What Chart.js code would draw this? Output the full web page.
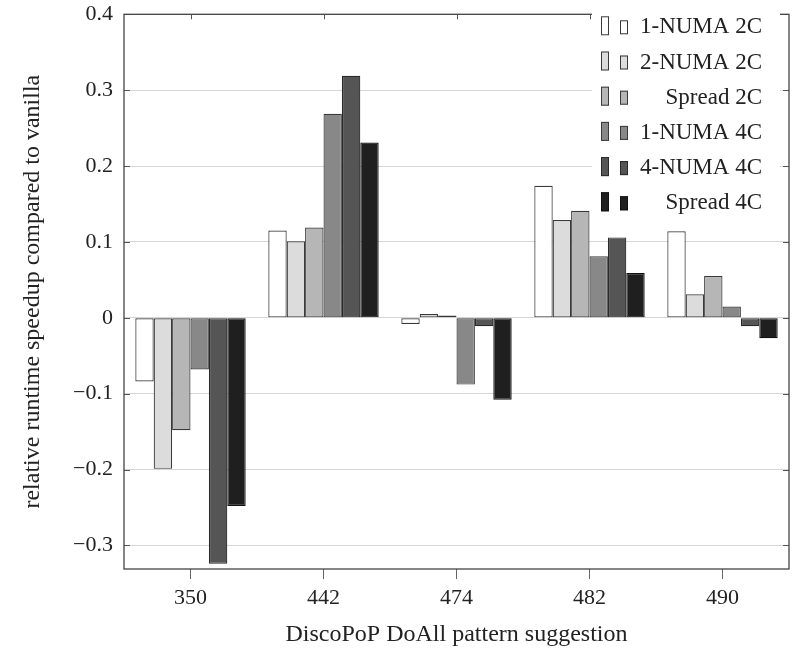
<!DOCTYPE html>
<html>
<head>
<meta charset="utf-8">
<script src="https://cdn.jsdelivr.net/npm/chart.js@4/dist/chart.umd.min.js"></script>
<style>
html,body{margin:0;padding:0;background:#fff;}
#wrap{width:795px;height:651px;position:relative;}
</style>
</head>
<body>
<div id="wrap"><canvas id="c" width="795" height="651"></canvas></div>
<script>
const categories = ['350', '442', '474', '482', '490'];
const seriesLabels = ['1-NUMA 2C', '2-NUMA 2C', 'Spread 2C', '1-NUMA 4C', '4-NUMA 4C', 'Spread 4C'];
const numa1_2c = [-0.084, 0.115, -0.008, 0.174, 0.114];
const numa2_2c = [-0.199, 0.101, 0.005, 0.129, 0.031];
const spread_2c = [-0.148, 0.119, 0.003, 0.141, 0.055];
const numa1_4c = [-0.068, 0.269, -0.088, 0.081, 0.015];
const numa4_4c = [-0.324, 0.319, -0.011, 0.106, -0.011];
const spread_4c = [-0.248, 0.231, -0.108, 0.059, -0.027];
const yTickValues = [-0.3, -0.2, -0.1, 0, 0.1, 0.2, 0.3, 0.4];
const yTickLabels = ['\u22120.3', '\u22120.2', '\u22120.1', '0', '0.1', '0.2', '0.3', '0.4'];

const fills = ['#ffffff', '#dcdcdc', '#b6b6b6', '#888888', '#555555', '#1f1f1f'];
const borders = ['#3a3a3a', '#3a3a3a', '#3a3a3a', '#3a3a3a', '#2a2a2a', '#111111'];
const seriesData = [numa1_2c, numa2_2c, spread_2c, numa1_4c, numa4_4c, spread_4c];
const FONT = '"Liberation Serif", "DejaVu Serif", serif';

const framePlugin = {
  id: 'frame',
  afterDatasetsDraw(chart) {
    const {ctx, chartArea: a, scales} = chart;
    ctx.save();
    ctx.strokeStyle = '#555';
    ctx.lineWidth = 1;
    scales.y.ticks.forEach(t => {
      const y = Math.round(scales.y.getPixelForValue(t.value)) + 0.5;
      ctx.beginPath();
      ctx.moveTo(a.left, y); ctx.lineTo(a.left + 6, y);
      ctx.moveTo(a.right, y); ctx.lineTo(a.right - 6, y);
      ctx.stroke();
    });
    categories.forEach((c, i) => {
      const x = Math.round(scales.x.getPixelForValue(i)) + 0.5;
      ctx.beginPath();
      ctx.moveTo(x, a.top); ctx.lineTo(x, a.top + 5);
      ctx.stroke();
    });
    ctx.strokeStyle = '#444';
    ctx.lineWidth = 1.3;
    ctx.strokeRect(a.left, a.top, a.right - a.left, a.bottom - a.top);
    ctx.restore();
  },
  afterDraw(chart) {
    const {ctx, chartArea: a} = chart;
    ctx.save();
    const boxL = a.right - 197, boxR = a.right - 9, boxT = a.top - 8, boxB = a.top + 199;
    ctx.fillStyle = '#fff';
    ctx.fillRect(boxL, boxT, boxR - boxL, boxB - boxT);
    ctx.font = '23px ' + FONT;
    ctx.textAlign = 'right';
    ctx.textBaseline = 'middle';
    chart.data.datasets.forEach((ds, i) => {
      const cy = a.top + 12 + i * 35.2;
      ctx.fillStyle = ds.backgroundColor;
      ctx.strokeStyle = ds.borderColor;
      ctx.lineWidth = 1;
      ctx.fillRect(boxL + 9, cy - 10, 8, 19);
      ctx.strokeRect(boxL + 9.5, cy - 9.5, 7, 18);
      ctx.fillRect(boxL + 28, cy - 6, 8, 14);
      ctx.strokeRect(boxL + 28.5, cy - 5.5, 7, 13);
      ctx.fillStyle = '#222';
      ctx.fillText(ds.label, boxR - 18, cy + 1);
    });
    ctx.restore();
  }
};

new Chart(document.getElementById('c'), {
  type: 'bar',
  data: {
    labels: categories,
    datasets: seriesData.map((d, i) => ({
      label: seriesLabels[i],
      data: d,
      backgroundColor: fills[i],
      borderColor: borders[i],
      borderWidth: 1.2,
      borderSkipped: false,
      categoryPercentage: 0.83,
      barPercentage: 1.0
    }))
  },
  options: {
    responsive: false,
    animation: false,
    layout: {padding: {top: 8, right: 6, left: 0, bottom: 0}},
    plugins: {legend: {display: false}, tooltip: {enabled: false}},
    scales: {
      x: {
        offset: true,
        grid: {display: true, drawOnChartArea: false, offset: false, tickLength: 10, color: '#666', lineWidth: 1},
        border: {display: false},
        ticks: {color: '#222', font: {family: FONT, size: 22}, padding: 6, maxRotation: 0},
        title: {display: true, text: 'DiscoPoP DoAll pattern suggestion', color: '#222', font: {family: FONT, size: 24}, padding: {top: 0, bottom: 2}},
        afterFit(s) { s.height = 82; }
      },
      y: {
        min: -0.331,
        max: 0.4,
        afterBuildTicks(s) { s.ticks = yTickValues.map(v => ({value: v})); },
        grid: {color: '#d6d6d6', lineWidth: 1, drawTicks: false},
        border: {display: false},
        ticks: {
          color: '#222', font: {family: FONT, size: 22, lineHeight: 0.3}, padding: 11,
          callback(v) { const i = yTickValues.findIndex(t => Math.abs(t - v) < 1e-9); return i >= 0 ? yTickLabels[i] : ''; }
        },
        title: {display: true, text: 'relative runtime speedup compared to vanilla', color: '#222', font: {family: FONT, size: 24}, padding: {top: 18, bottom: 0}},
        afterFit(s) { s.width = 124; }
      }
    }
  },
  plugins: [framePlugin]
});
</script>
</body>
</html>
